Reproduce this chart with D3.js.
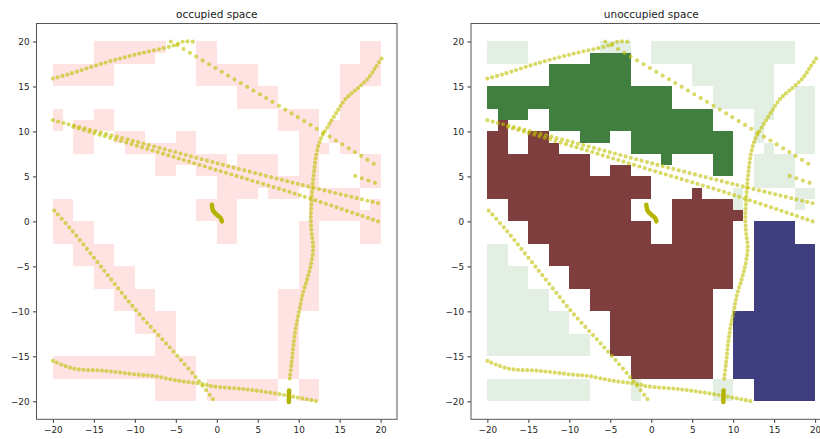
<!DOCTYPE html>
<html>
<head>
<meta charset="utf-8">
<script src="https://cdn.jsdelivr.net/npm/d3@7"></script>
<style>
  body { margin: 0; background: #fff; }
  svg text { font-family: "DejaVu Sans", sans-serif; }
</style>
</head>
<body>
<div id="chart"></div>
<script>
// grid: 32x32 cells of 1.25 units, row 0 at the top (y = 20)
// '#' occupied, g / G / B / N = free cell and its cluster
const cellSize = 1.25;
const gridOrigin = -20;
const gridRows = [
  "gggg#######ggg##gggggggggggggg##",
  "gggg######GGGG##gggggggggggggg##",
  "######GGGGGGGG######gggggggg####",
  "######GGGGGGGG######gggggggg####",
  "GGGGGGGGGGGGGGGGGG####gggggg##gg",
  "GGGGGGGGGGGGGGGGGG####gggggg##gg",
  "#GGG##GGGGGGGGGGGGGGGG####gg##gg",
  "#B####GGGGGGGGGGGGGGGG####g###gg",
  "BB##BB###GGG##GGGGGGGGGG##g###gg",
  "BB##BBB#######GGGGGGGGGG###g##gg",
  "BBBBBBBBBB#######G####GG##gggg##",
  "BBBBBBBBBB##BB########GG##gggg##",
  "BBBBBBBBBBBBBBBB##########gggg##",
  "BBBBBBBBBBBBBBBB####B###g#####gg",
  "##BBBBBBBBBBBB####BBBBBBg#####g#",
  "##BBBBBBBBBBBB####BBBBBBB#######",
  "####BBBBBBBBBBBB##BBBBBB##NNNN##",
  "####BBBBBBBBBBBB##BBBBBB##NNNN##",
  "gg####BBBBBBBBBBBBBBBBBB##NNNNNN",
  "gg####BBBBBBBBBBBBBBBBBB##NNNNNN",
  "gggg####BBBBBBBBBBBBBBBB##NNNNNN",
  "gggg####BBBBBBBBBBBBBBBB##NNNNNN",
  "gggggg####BBBBBBBBBBBB####NNNNNN",
  "gggggg####BBBBBBBBBBBB####NNNNNN",
  "gggggggg####BBBBBBBBBB##NNNNNNNN",
  "gggggggg####BBBBBBBBBB##NNNNNNNN",
  "gggggggggg##BBBBBBBBBB##NNNNNNNN",
  "gggggggggg##BBBBBBBBBB##NNNNNNNN",
  "##############BBBBBBBB##NNNNNNNN",
  "##############BBBBBBBB##NNNNNNNN",
  "gggggggggg####g#######gg##NNNNNN",
  "gggggggggg####g#######gg##NNNNNN"
];

const ticks = [-20, -15, -10, -5, 0, 5, 10, 15, 20];
const titles = ["occupied space", "unoccupied space"];

// trajectories (x, y)
const trajA = [[-20, 15.88], [-18.1, 16.36], [-13.8, 17.6], [-9.7, 18.6], [-5.45, 19.5], [-4.0, 20.0], [-2.7, 19.95]];
const trajB = [[-5.6, 20.0], [0.67, 16.6], [7.6, 12.85], [19.9, 6.0]];
const trajC = [[-20, 11.25], [-10, 8.9], [-0.55, 6.6], [10, 4.15], [20, 1.95]];
const trajD = [[-17.5, 10.5], [-9, 8.2], [-0.55, 5.85], [10, 2.95], [20, -0.1]];
const trajE = [[16.9, 5.05], [19.9, 4.1]];
const trajF = [[8.9, -17.47], [9.15, -15.62], [9.36, -13.76], [9.64, -11.9], [10.05, -10.05], [10.46, -8.19],
  [11.07, -6.33], [11.48, -4.85], [11.77, -2.99], [11.56, -1.14], [11.48, 0.73], [11.56, 1.95], [11.68, 3.81],
  [11.89, 5.66], [12.17, 7.52], [12.7, 9.19], [13.52, 10.49], [14.53, 11.98], [15.76, 13.65], [17.4, 14.95],
  [18.62, 16.07], [19.43, 17.18], [20.12, 18.1]];
const trajG = [[-20, -15.5], [-17.5, -16.36], [-13.8, -16.6], [-9.7, -17.03], [-7.7, -17.18], [-4.8, -17.7],
  [-1.57, -18.1], [-0.55, -18.33], [3.5, -18.66], [7.6, -19.2], [12.1, -19.97]];
const trajH = [[-19.84, 1.2], [-17.9, -0.76], [-13.8, -5.4], [-9.7, -10.05], [-5.65, -14.1], [-2.4, -17.5], [-0.34, -19.9]];
const trajI = [[-0.6, 1.84], [-0.45, 1.2], [0.0, 0.75], [0.45, 0.4], [0.63, 0.0]];
const trajJ = [[8.83, -18.8], [8.8, -20.08]];

const dotted = [
  { pts: trajA, gap: 5 }, { pts: trajB, gap: 7.4 }, { pts: trajC, gap: 5.5 }, { pts: trajD, gap: 5.5 },
  { pts: trajE, gap: 7 }, { pts: trajF, gap: 4.2 }, { pts: trajG, gap: 4.6 }, { pts: trajH, gap: 5.6 }
];
const solid = [trajI, trajJ];

const occupiedColor = "#ffe2e2";
const clusterColors = { g: "#e2efe2", G: "#417f41", B: "#7e3e3e", N: "#3f3e7e" };

const width = 820, height = 439;
const svg = d3.select("#chart").append("svg")
  .attr("width", width).attr("height", height);

const cells = [];
gridRows.forEach((row, j) => {
  row.split("").forEach((c, k) => cells.push({ k, j, c }));
});

const panels = [
  { left: 36.5, right: 397, fill: (d) => d.c === "#" ? occupiedColor : null },
  { left: 471, right: 831.5, fill: (d) => d.c === "#" ? null : clusterColors[d.c] }
];

panels.forEach((p, i) => {
  const x = d3.scaleLinear().domain([-22, 22]).range([p.left, p.right]);
  const y = d3.scaleLinear().domain([-22, 22]).range([419.3, 23.5]);
  const g = svg.append("g");

  g.append("g").selectAll("rect")
    .data(cells.filter((d) => p.fill(d)))
    .join("rect")
    .attr("x", (d) => x(gridOrigin + d.k * cellSize))
    .attr("y", (d) => y(-gridOrigin - d.j * cellSize))
    .attr("width", (d) => x(gridOrigin + (d.k + 1) * cellSize) - x(gridOrigin + d.k * cellSize))
    .attr("height", (d) => y(-gridOrigin - (d.j + 1) * cellSize) - y(-gridOrigin - d.j * cellSize))
    .attr("fill", p.fill)
    .attr("shape-rendering", "crispEdges");

  const line = d3.line().x((d) => x(d[0])).y((d) => y(d[1])).curve(d3.curveCatmullRom);

  g.append("g").selectAll("path")
    .data(dotted)
    .join("path")
    .attr("d", (d) => line(d.pts))
    .attr("fill", "none")
    .attr("stroke", "#bfbf00")
    .attr("stroke-opacity", 0.6)
    .attr("stroke-width", 4.2)
    .attr("stroke-linecap", "round")
    .attr("stroke-dasharray", (d) => `0 ${d.gap}`);

  g.append("g").selectAll("path")
    .data(solid)
    .join("path")
    .attr("d", (d) => line(d))
    .attr("fill", "none")
    .attr("stroke", "#b4b400")
    .attr("stroke-width", 4.5)
    .attr("stroke-linecap", "round");

  const xAxis = g.append("g")
    .attr("transform", `translate(0, ${y(-22)})`)
    .call(d3.axisBottom(x).tickValues(ticks).tickSize(3.5).tickPadding(3.5));
  const yAxis = g.append("g")
    .attr("transform", `translate(${x(-22)}, 0)`)
    .call(d3.axisLeft(y).tickValues(ticks).tickSize(3.5).tickPadding(3.5));
  [xAxis, yAxis].forEach((a) => {
    a.select(".domain").remove();
    a.selectAll("line").attr("stroke", "#333");
    a.selectAll("text").attr("fill", "#262626").style("font-size", "8.8px");
  });

  g.append("rect")
    .attr("x", x(-22)).attr("y", y(22))
    .attr("width", x(22) - x(-22)).attr("height", y(-22) - y(22))
    .attr("fill", "none").attr("stroke", "#555").attr("stroke-width", 1);

  g.append("text")
    .attr("x", (x(-22) + x(22)) / 2).attr("y", 18.3)
    .attr("text-anchor", "middle")
    .attr("fill", "#1a1a1a")
    .style("font-size", "10.5px")
    .text(titles[i]);
});
</script>
</body>
</html>
